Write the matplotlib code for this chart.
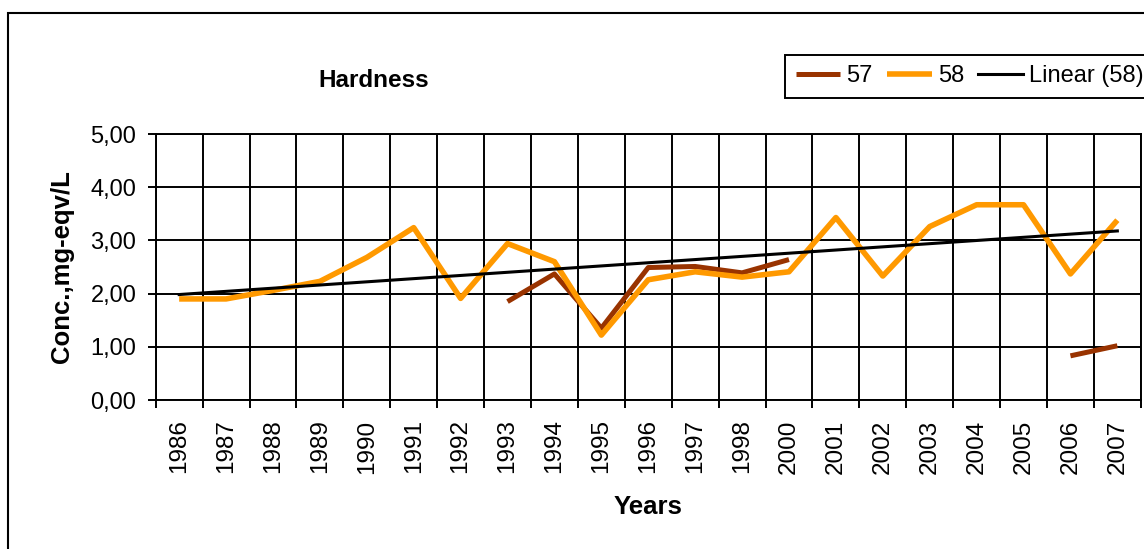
import numpy as np
import matplotlib
matplotlib.use("Agg")
import matplotlib.pyplot as plt
from matplotlib.patches import Rectangle

plt.rcParams['font.family'] = ['Liberation Sans', 'DejaVu Sans']

# --- data ---
years = ['1986', '1987', '1988', '1989', '1990', '1991', '1992', '1993', '1994',
         '1995', '1996', '1997', '1998', '2000', '2001', '2002', '2003', '2004',
         '2005', '2006', '2007']
s57 = [np.nan, np.nan, np.nan, np.nan, np.nan, np.nan, np.nan, 1.85, 2.37,
       1.35, 2.49, 2.51, 2.39, 2.64, np.nan, np.nan, np.nan, np.nan,
       np.nan, 0.83, 1.02]
s58 = [1.90, 1.90, 2.06, 2.23, 2.68, 3.24, 1.91, 2.94, 2.60,
       1.22, 2.26, 2.41, 2.31, 2.41, 3.43, 2.33, 3.26, 3.67,
       3.67, 2.37, 3.38]
y_ticks = [0, 1, 2, 3, 4, 5]

W, H = 1144, 549
fig = plt.figure(figsize=(W / 100, H / 100), dpi=100)
ax = fig.add_axes([155.7 / W, 1 - 400 / H, (1140.8 - 155.7) / W, (400 - 134) / H])

x = np.arange(len(years))
ax.plot(x, s57, color='#993300', lw=3.6, label='57', solid_capstyle='butt')
ax.plot(x, s58, color='#FF9900', lw=4.0, label='58', solid_capstyle='butt')

# linear trend of series 58
k, b = np.polyfit(x, s58, 1)
ax.plot(x, k * x + b, color='black', lw=2.2, label='Linear (58)')

ax.set_xlim(-0.5, len(years) - 0.5)
ax.set_ylim(0, 5)

# category boundaries carry the ticks and grid, labels sit in the middle
ax.set_xticks(np.arange(len(years) + 1) - 0.5)
ax.set_xticklabels([])
ax.set_xticks(x, minor=True)
ax.set_xticklabels(years, minor=True, rotation=90, fontsize=17.5)
ax.tick_params(axis='x', which='major', length=6, width=1.4, direction='out')
ax.tick_params(axis='x', which='minor', length=0, pad=14)

ax.set_yticks(y_ticks)
ax.set_yticklabels([f"{v:.2f}".replace('.', ',') for v in y_ticks], fontsize=17)
ax.tick_params(axis='y', length=6, width=1.4, pad=8)

ax.grid(True, which='major', color='black', lw=1.4)
ax.set_axisbelow(True)
for sp in ax.spines.values():
    sp.set_linewidth(1.4)

ax.set_ylabel('Conc.,mg-eqv/L', fontsize=18.5, fontweight='bold')
ax.yaxis.set_label_coords((74 - 155.7) / 985.1, 0.5)
ax.set_xlabel('Years', fontsize=18.5, fontweight='bold', labelpad=15)

fig.text(374 / W, 1 - 81 / H, 'Hardness', fontsize=17.5, fontweight='bold',
         ha='center', va='center')

# chart area border (runs off the right and bottom edge)
fig.patches.append(Rectangle((8 / W, -0.2), 1.5, 1.2 - 13 / H,
                             transform=fig.transFigure, fill=False,
                             edgecolor='black', lw=1.5))

leg = fig.legend(loc='upper left', bbox_to_anchor=(785 / W, 1 - 54.5 / H),
                 ncol=3, fontsize=17, frameon=True, fancybox=False,
                 edgecolor='black', framealpha=1, borderaxespad=0,
                 handlelength=1.9, handletextpad=0.25, columnspacing=0.6,
                 borderpad=0.45)
leg.get_frame().set_linewidth(1.4)

fig.savefig('out.png', dpi=100)
